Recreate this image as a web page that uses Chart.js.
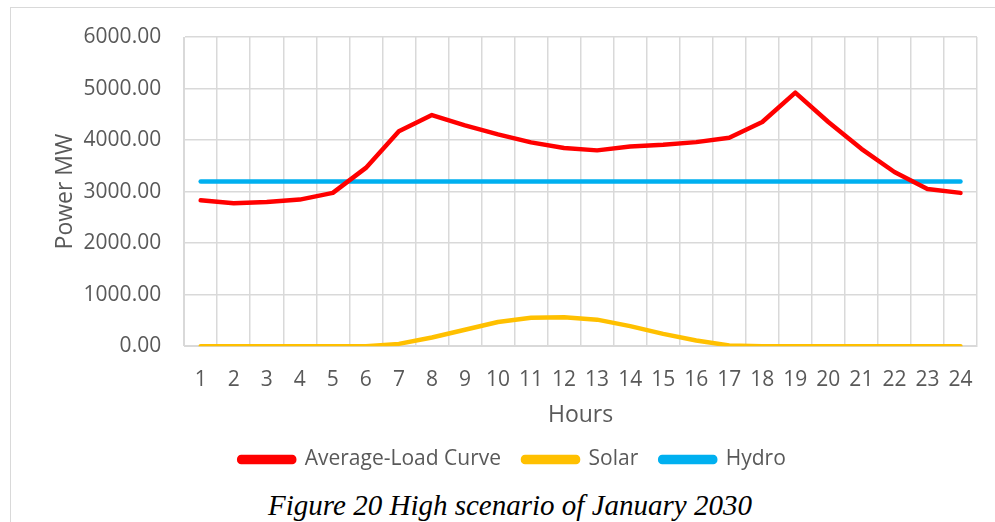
<!DOCTYPE html>
<html>
<head>
<meta charset="utf-8">
<script src="https://cdn.jsdelivr.net/npm/chart.js@4.4.0/dist/chart.umd.min.js"></script>
<style>
  body { margin: 0; background: #fff; }
  #frame { position: absolute; left: 10px; top: 7px; width: 990px; height: 520px; border: 1px solid #d9d9d9; box-sizing: border-box; }
  #wrap { position: absolute; left: 0; top: 0; width: 995px; height: 480px; }
  #caption { position: absolute; left: 0; width: 1020px; top: 489px; text-align: center;
    font-family: "Liberation Serif", serif; font-style: italic; font-size: 29px; color: #000; }
</style>
</head>
<body>
<div id="frame"></div>
<div id="wrap"><canvas id="chart"></canvas></div>
<div id="caption">Figure 20 High scenario of January 2030</div>
<script>
const hours = ["1","2","3","4","5","6","7","8","9","10","11","12","13","14","15","16","17","18","19","20","21","22","23","24"];
const loadCurve = [2830, 2775, 2800, 2845, 2975, 3460, 4170, 4485, 4285, 4110, 3955, 3845, 3800, 3875, 3910, 3960, 4045, 4350, 4920, 4350, 3830, 3380, 3050, 2975];
const solar = [0, 0, 0, 0, 0, 0, 45, 170, 320, 470, 550, 560, 515, 390, 240, 110, 15, 0, 0, 0, 0, 0, 0, 0];
const hydro = [3195, 3195, 3195, 3195, 3195, 3195, 3195, 3195, 3195, 3195, 3195, 3195, 3195, 3195, 3195, 3195, 3195, 3195, 3195, 3195, 3195, 3195, 3195, 3195];

const gray = "#595959";
const font = "'Open Sans', 'Noto Sans', sans-serif";

function line(label, data, color) {
  return {
    label: label,
    data: data,
    borderColor: color,
    backgroundColor: color,
    borderWidth: 4.5,
    pointRadius: 0,
    borderCapStyle: "round",
    borderJoinStyle: "round",
    tension: 0
  };
}

new Chart(document.getElementById("chart"), {
  type: "line",
  data: {
    labels: hours,
    datasets: [
      line("Average-Load Curve", loadCurve, "#ff0000"),
      line("Solar", solar, "#ffc000"),
      line("Hydro", hydro, "#00b0f0")
    ]
  },
  options: {
    responsive: true,
    maintainAspectRatio: false,
    animation: false,
    layout: { padding: { top: 37, right: 18, left: 48, bottom: 0 } },
    plugins: {
      tooltip: { enabled: false },
      legend: {
        position: "bottom",
        labels: {
          color: gray,
          font: { family: font, size: 21 },
          boxWidth: 55,
          boxHeight: 5,
          padding: 22,
          useBorderRadius: true,
          borderRadius: 2
        }
      }
    },
    scales: {
      x: {
        offset: true,
        grid: { offset: true, color: "#d9d9d9", lineWidth: 1.5, drawTicks: false },
        border: { color: "#d9d9d9" },
        ticks: { color: gray, font: { family: font, size: 21 }, padding: 21, maxRotation: 0 },
        title: { display: true, text: "Hours", color: gray, font: { family: font, size: 23 }, padding: { top: -12, bottom: -2 } }
      },
      y: {
        min: 0,
        max: 6000,
        grid: { color: "#d9d9d9", lineWidth: 1.5, drawTicks: false },
        border: { color: "#d9d9d9" },
        ticks: { stepSize: 1000, color: gray, font: { family: font, size: 21 }, padding: 23,
          callback: v => v.toFixed(2) },
        title: { display: true, text: "Power MW", color: gray, font: { family: font, size: 23 }, padding: { bottom: -19 } }
      }
    }
  }
});
</script>
</body>
</html>
